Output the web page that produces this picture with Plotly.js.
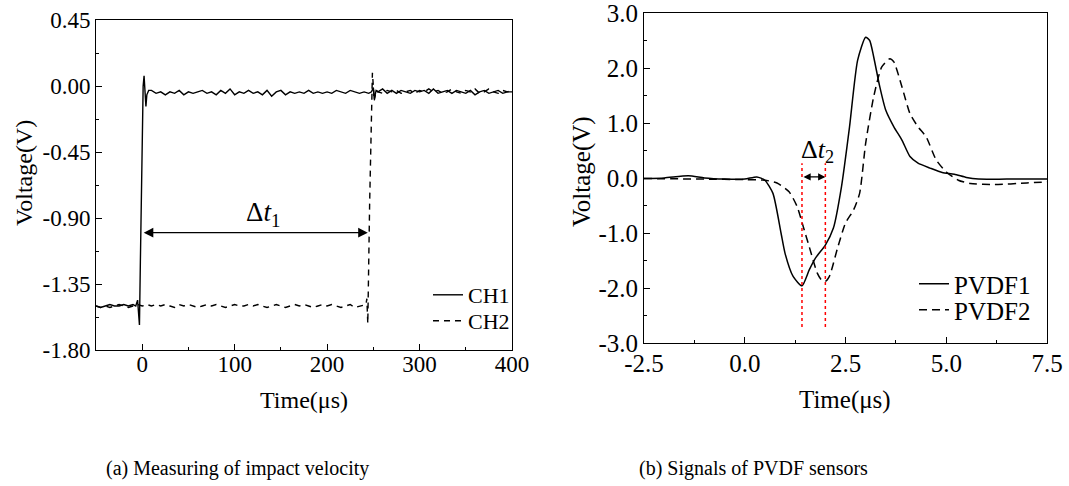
<!DOCTYPE html>
<html>
<head>
<meta charset="utf-8">
<script src="https://cdn.plot.ly/plotly-3.0.1.min.js"></script>
<style>html,body{margin:0;padding:0;background:#fff;}#chart{width:1069px;height:486px;}</style>
</head>
<body>
<div id="chart"></div>
<script>
// ---------- Panel (a): impact velocity ----------
var ch1Time = [-50,-45,-40,-35,-30,-25,-20,-15,-10,-7,-5,-4,-3,-2,-1,0,1,2,3,4,5,7,
  10,15,20,25,30,35,40,45,50,55,60,65,70,75,80,85,90,95,100,105,110,115,120,125,130,135,140,145,
  150,155,160,165,170,175,180,185,190,195,200,205,210,215,220,225,230,235,240,245,248,250,251,253,
  255,260,265,270,275,280,285,290,295,300,305,310,315,320,325,330,335,340,345,350,355,360,365,370,375,380,385,390,395,400];
var ch1Volt = [-1.50,-1.51,-1.50,-1.49,-1.50,-1.50,-1.49,-1.50,-1.49,-1.50,-1.46,-1.55,-1.63,-1.20,-0.70,-0.25,0.00,0.07,-0.05,-0.14,-0.06,-0.03,
  -0.03,-0.05,-0.04,-0.06,-0.04,-0.05,-0.03,-0.06,-0.04,-0.05,-0.04,-0.03,-0.05,-0.04,-0.06,-0.03,-0.05,-0.02,-0.06,-0.04,-0.05,-0.03,-0.05,-0.04,-0.06,-0.03,-0.07,-0.04,
  -0.03,-0.06,-0.04,-0.05,-0.04,-0.05,-0.03,-0.05,-0.04,-0.05,-0.04,-0.05,-0.03,-0.04,-0.05,-0.03,-0.04,-0.05,-0.04,-0.05,-0.04,-0.01,-0.09,-0.03,
  -0.04,-0.02,-0.05,-0.03,-0.05,-0.03,-0.04,-0.05,-0.03,-0.04,-0.03,-0.05,-0.02,-0.05,-0.04,-0.03,-0.05,-0.03,-0.04,-0.05,-0.03,-0.06,-0.04,-0.03,-0.05,-0.04,-0.03,-0.05,-0.04,-0.04];

var ch2Time = [-50,-45,-40,-35,-30,-25,-20,-15,-10,-5,0,5,10,15,20,25,30,35,40,45,50,55,60,65,70,75,80,85,90,95,
  100,105,110,115,120,125,130,135,140,145,150,155,160,165,170,175,180,185,190,195,200,205,210,215,220,225,230,235,240,
  242,243,244,246,248,249,250,251,253,
  255,260,265,270,275,280,285,290,295,300,305,310,315,320,325,330,335,340,345,350,355,360,365,370,375,380,385,390,395,400];
var ch2Volt = [-1.50,-1.51,-1.50,-1.51,-1.50,-1.49,-1.50,-1.51,-1.50,-1.49,-1.50,-1.49,-1.50,-1.49,-1.50,-1.49,-1.50,-1.51,-1.49,-1.50,-1.49,-1.50,-1.51,-1.50,-1.49,-1.50,-1.49,-1.50,-1.51,-1.50,
  -1.49,-1.50,-1.50,-1.49,-1.50,-1.49,-1.50,-1.51,-1.50,-1.49,-1.50,-1.51,-1.50,-1.49,-1.50,-1.49,-1.50,-1.51,-1.50,-1.49,-1.50,-1.49,-1.50,-1.51,-1.50,-1.49,-1.51,-1.50,-1.49,
  -1.49,-1.45,-1.62,-0.80,-0.10,0.09,0.00,-0.10,-0.03,
  -0.04,-0.05,-0.03,-0.04,-0.03,-0.05,-0.04,-0.03,-0.05,-0.03,-0.04,-0.02,-0.04,-0.03,-0.05,-0.04,-0.02,-0.04,-0.05,-0.03,-0.04,-0.02,-0.05,-0.04,-0.02,-0.04,-0.05,-0.03,-0.04,-0.03];

// ---------- Panel (b): PVDF sensor signals ----------
var pvdf1Time = [-2.5,-2.0,-1.4,-1.0,-0.5,0.0,0.3,0.5,0.7,0.9,1.0,1.2,1.42,1.6,1.75,2.0,2.2,2.4,2.6,2.8,3.0,3.1,3.2,3.35,3.5,3.7,3.9,4.1,4.3,4.6,4.9,5.2,5.5,5.8,6.5,7.5];
var pvdf1Volt = [-0.01,0.00,0.04,0.00,-0.02,-0.02,0.02,-0.04,-0.28,-1.00,-1.37,-1.79,-1.96,-1.67,-1.46,-1.22,-0.91,-0.16,0.93,2.14,2.56,2.50,2.20,1.66,1.23,0.93,0.69,0.39,0.27,0.18,0.10,0.07,0.01,-0.02,-0.02,-0.02];

var pvdf2Time = [-2.5,-1.0,0.0,0.5,0.8,1.1,1.3,1.45,1.6,1.8,1.9,2.0,2.1,2.3,2.5,2.7,2.85,3.0,3.2,3.4,3.6,3.7,3.9,4.1,4.3,4.5,4.75,5.0,5.3,5.6,6.2,7.0,7.5];
var pvdf2Volt = [-0.01,-0.02,-0.03,-0.04,-0.09,-0.25,-0.52,-0.88,-1.25,-1.73,-1.85,-1.88,-1.79,-1.28,-0.82,-0.58,-0.28,0.63,1.48,2.02,2.17,2.11,1.66,1.17,0.93,0.75,0.33,0.11,-0.04,-0.10,-0.12,-0.09,-0.07];

// annotation values
var dt1Start = 0, dt1End = 244, dt1Level = -1.0;
var dt2Times = [1.42, 2.0], dt2Top = 0.27, dt2Bottom = -2.71, dt2Level = 0.02;

// tick labels
var axYTicks = [-1.8,-1.35,-0.9,-0.45,0,0.45];
var axYText = ['-1.80','-1.35','-0.90','-0.45','0.00','0.45'];
var axXTicks = [0,100,200,300,400];
var axXText = ['0','100','200','300','400'];
var bxXTicks = [-2.5,0,2.5,5,7.5];
var bxXText = ['-2.5','0.0','2.5','5.0','7.5'];
var byYTicks = [-3,-2,-1,0,1,2,3];
var byYText = ['-3.0','-2.0','-1.0','0.0','1.0','2.0','3.0'];

var FONT = 'Liberation Serif';
var W = 1069, H = 486;

var traces = [
  {x: ch1Time, y: ch1Volt, name: 'CH1', mode: 'lines', line: {color: '#000', width: 1.4}, xaxis: 'x', yaxis: 'y', legend: 'legend'},
  {x: ch2Time, y: ch2Volt, name: 'CH2', mode: 'lines', line: {color: '#000', width: 1.4, dash: '6px,5px'}, xaxis: 'x', yaxis: 'y', legend: 'legend2'},
  {x: pvdf1Time, y: pvdf1Volt, name: 'PVDF1', mode: 'lines', line: {color: '#000', width: 1.5, shape: 'spline', smoothing: 0.6}, xaxis: 'x2', yaxis: 'y2', legend: 'legend3'},
  {x: pvdf2Time, y: pvdf2Volt, name: 'PVDF2', mode: 'lines', line: {color: '#000', width: 1.5, dash: '8px,5px', shape: 'spline', smoothing: 0.6}, xaxis: 'x2', yaxis: 'y2', legend: 'legend4'}
];

function axisBase(fs) {
  return {
    showline: true, mirror: true, linecolor: '#000', linewidth: 1,
    ticks: 'inside', ticklen: 6, tickwidth: 1, tickcolor: '#000',
    showgrid: false, zeroline: false, automargin: false,
    ticklabeloverflow: 'allow',
    tickfont: {family: FONT, size: fs, color: '#000'},
    tickmode: 'array'
  };
}

var xa = Object.assign(axisBase(23), {
  domain: [96/W, 512/W], range: [-50, 400], anchor: 'y',
  tickvals: axXTicks, ticktext: axXText, ticklabelstandoff: -7,
  minor: {tickvals: [50,150,250,350], ticks: 'inside', ticklen: 3, tickcolor: '#000', showgrid: false}
});
var ya = Object.assign(axisBase(23), {
  domain: [(H-350)/H, (H-20)/H], range: [-1.8, 0.45], anchor: 'x',
  tickvals: axYTicks, ticktext: axYText,
  minor: {tickvals: [-1.575,-1.125,-0.675,-0.225,0.225], ticks: 'inside', ticklen: 3, tickcolor: '#000', showgrid: false}
});
var xb = Object.assign(axisBase(25), {
  domain: [644/W, 1047/W], range: [-2.5, 7.5], anchor: 'y2',
  tickvals: bxXTicks, ticktext: bxXText, ticklabelstandoff: -2,
  minor: {tickvals: [-1.25,1.25,3.75,6.25], ticks: 'inside', ticklen: 3, tickcolor: '#000', showgrid: false}
});
var yb = Object.assign(axisBase(25), {
  domain: [(H-343)/H, (H-13)/H], range: [-3, 3], anchor: 'x2',
  tickvals: byYTicks, ticktext: byYText,
  minor: {tickvals: [-2.5,-1.5,-0.5,0.5,1.5,2.5], ticks: 'inside', ticklen: 3, tickcolor: '#000', showgrid: false}
});

var shapes = dt2Times.map(function (t) {
  return {type: 'line', xref: 'x2', yref: 'y2', x0: t, x1: t, y0: dt2Bottom, y1: dt2Top,
          line: {color: '#ff0000', width: 1.5, dash: 'dot'}};
});

function paperText(txt, xpx, ypx, fs, angle) {
  return {xref: 'paper', yref: 'paper', x: xpx/W, y: (H-ypx)/H, text: txt, showarrow: false,
          xanchor: 'center', yanchor: 'middle', textangle: angle || 0,
          font: {family: FONT, size: fs, color: '#000'}};
}

var annotations = [
  {xref: 'x', yref: 'y', axref: 'x', ayref: 'y', x: dt1End, y: dt1Level, ax: dt1Start, ay: dt1Level,
   text: '', showarrow: true, arrowhead: 2, startarrowhead: 2, arrowside: 'end+start', arrowsize: 1.6, arrowwidth: 1.2, arrowcolor: '#000'},
  {xref: 'x', yref: 'y', x: 131, y: -0.87, text: 'Δ<i>t</i><sub>1</sub>', showarrow: false,
   font: {family: FONT, size: 27, color: '#000'}},
  {xref: 'x2', yref: 'y2', axref: 'x2', ayref: 'y2', x: dt2Times[1], y: dt2Level, ax: dt2Times[0], ay: dt2Level,
   text: '', showarrow: true, arrowhead: 2, startarrowhead: 2, arrowside: 'end+start', arrowsize: 1.2, arrowwidth: 1.2, arrowcolor: '#000'},
  {xref: 'x2', yref: 'y2', x: 1.8, y: 0.5, text: 'Δ<i>t</i><sub>2</sub>', showarrow: false,
   font: {family: FONT, size: 26, color: '#000'}},
  // axis titles
  paperText('Time(μs)', 304, 400, 24),
  paperText('Voltage(V)', 24, 173, 24, -90),
  paperText('Time(μs)', 845, 400, 25),
  paperText('Voltage(V)', 582, 172, 25, -90),
  // panel captions
  paperText('(a) Measuring of impact velocity', 237, 468, 20),
  paperText('(b) Signals of PVDF sensors', 753, 468, 20)
];

function leg(xpx, ypx, fs) {
  return {x: xpx/W, y: (H-ypx)/H, xanchor: 'left', yanchor: 'middle', bgcolor: 'rgba(0,0,0,0)',
          font: {family: FONT, size: fs, color: '#000'}, tracegroupgap: 0};
}

var layout = {
  width: W, height: H,
  margin: {l: 0, r: 0, t: 0, b: 0},
  paper_bgcolor: '#fff', plot_bgcolor: '#fff',
  font: {family: FONT, color: '#000'},
  xaxis: xa, yaxis: ya, xaxis2: xb, yaxis2: yb,
  showlegend: true,
  legend: leg(428, 295, 22),
  legend2: leg(428, 321, 22),
  legend3: leg(914, 284, 25),
  legend4: leg(914, 310, 25),
  shapes: shapes,
  annotations: annotations
};

Plotly.newPlot('chart', traces, layout, {staticPlot: true, displayModeBar: false});
</script>
</body>
</html>
